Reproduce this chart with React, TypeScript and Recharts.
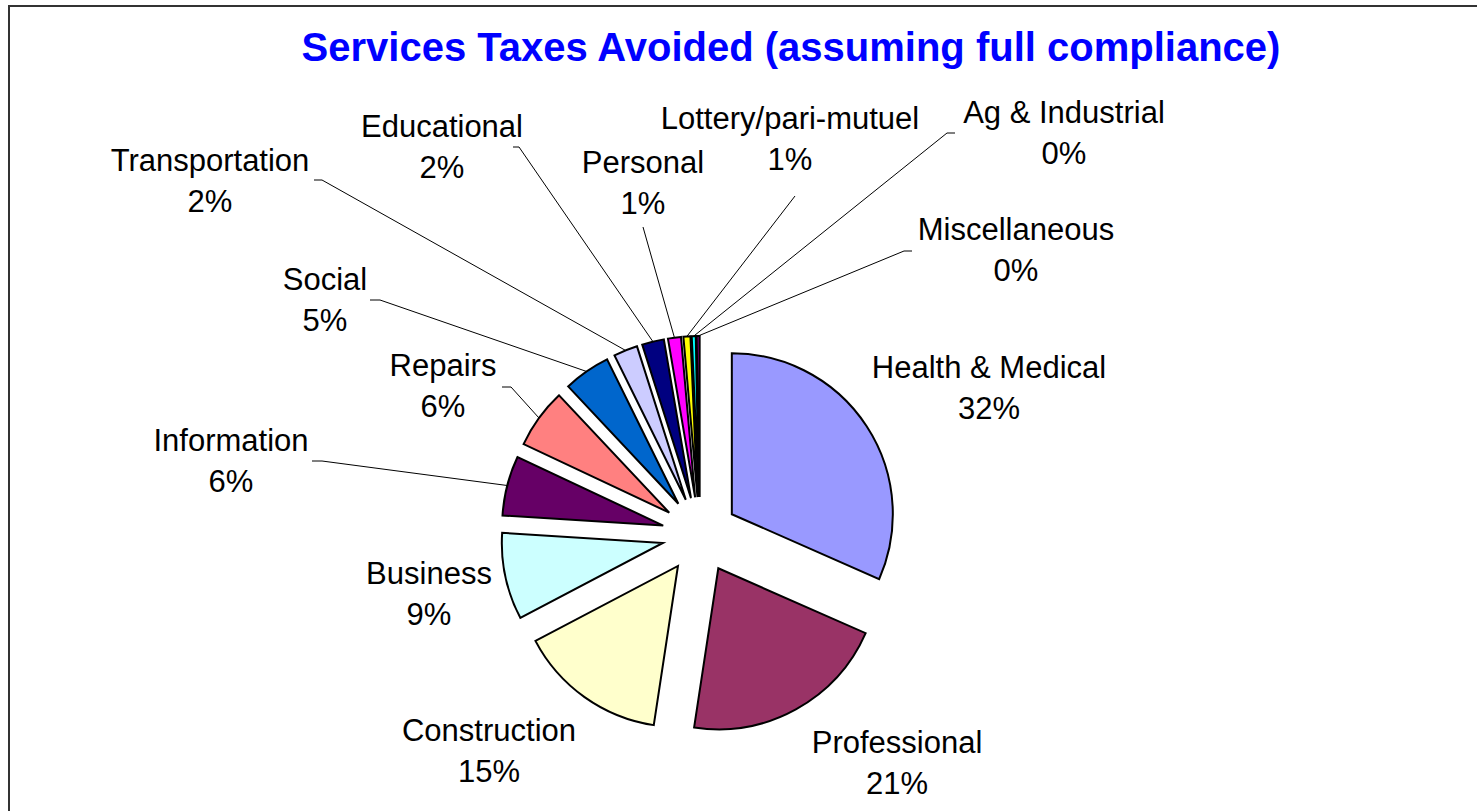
import React from 'react';
import { PieChart, Pie, Cell, Sector } from 'recharts';

// ---- data ----
const CATEGORIES = [
  'Health & Medical',
  'Professional',
  'Construction',
  'Business',
  'Information',
  'Repairs',
  'Social',
  'Transportation',
  'Educational',
  'Personal',
  'Lottery/pari-mutuel',
  'Ag & Industrial',
  'Miscellaneous',
];
const SHARES = [31.6, 20.8, 14.9, 8.7, 6.0, 6.0, 4.7, 2.4, 2.2, 1.3, 0.7, 0.4, 0.3];
const TITLE = 'Services Taxes Avoided (assuming full compliance)';

// ---- style / layout ----
const COLORS = [
  '#9999FF', '#993366', '#FFFFCC', '#CCFFFF', '#660066', '#FF8080', '#0066CC',
  '#CCCCFF', '#000080', '#FF00FF', '#FFFF00', '#00FFFF', '#800080',
];
const W = 1477;
const H = 811;
const CX = 700;
const CY = 535;
const R = 161;
const EXPLODE = 38;
const FONT = "'Liberation Sans', Arial, Helvetica, sans-serif";
const LABEL_SIZE = 31;
const LINE_GAP = 41;

// label first-line baseline centre, relative to pie centre
const LABEL_POS: [number, number][] = [
  [289, -157], [197, 218], [-211, 206], [-271, 49], [-469, -84], [-257, -159],
  [-375, -245], [-490, -364], [-258, -398], [-57, -362], [90, -406], [364, -412], [316, -295],
];
// leader line start (relative to pie centre) and horizontal stub length
const LEADERS: ([number, number, number] | null)[] = [
  null, null, null, null,
  [-388, -74, 10],
  [-198, -148, 9],
  [-330, -235, 10],
  [-386, -355, 8],
  [-187, -388, 6],
  [-57, -308, 0],
  [95, -339, 0],
  [255, -402, -8],
  [212, -284, -8],
];

const data = CATEGORIES.map((name, i) => ({ name, value: SHARES[i] }));

const RAD = Math.PI / 180;

const ExplodedSector = (props: any) => {
  const a = -props.midAngle * RAD;
  return (
    <Sector
      {...props}
      cx={props.cx + EXPLODE * Math.cos(a)}
      cy={props.cy + EXPLODE * Math.sin(a)}
    />
  );
};

const renderLabel = (props: any) => {
  const { cx, cy, midAngle, outerRadius, percent, index, name } = props;
  const [dx, dy] = LABEL_POS[index];
  const x = cx + dx;
  const y = cy + dy;
  const leader = LEADERS[index];
  let path: React.ReactNode = null;
  if (leader) {
    const a = -midAngle * RAD;
    const ex = cx + (EXPLODE + outerRadius) * Math.cos(a);
    const ey = cy + (EXPLODE + outerRadius) * Math.sin(a);
    const sx = cx + leader[0];
    const sy = cy + leader[1];
    path = (
      <path
        d={`M${sx},${sy} L${sx + leader[2]},${sy} L${ex},${ey}`}
        fill="none"
        stroke="#000"
        strokeWidth={1}
      />
    );
  }
  return (
    <g key={`lbl-${index}`}>
      {path}
      <text
        x={x}
        y={y}
        textAnchor="middle"
        fontFamily={FONT}
        fontSize={LABEL_SIZE}
        fill="#000"
      >
        <tspan x={x}>{name}</tspan>
        <tspan x={x} dy={LINE_GAP}>{`${Math.round(percent * 100)}%`}</tspan>
      </text>
    </g>
  );
};

export default function App() {
  return (
    <div
      style={{
        position: 'absolute',
        left: 0,
        top: 0,
        width: W,
        height: H,
        overflow: 'hidden',
        background: '#fff',
      }}
    >
      <svg
        width={W}
        height={H}
        style={{ position: 'absolute', left: 0, top: 0 }}
      >
        <path d={`M9,${H + 20} L9,6 L${W + 20},6`} fill="none" stroke="#333" strokeWidth={2} />
        <text
          x={791}
          y={61}
          textAnchor="middle"
          fontFamily={FONT}
          fontWeight="bold"
          fontSize={40}
          fill="#0000FF"
        >
          {TITLE}
        </text>
      </svg>
      <div style={{ position: 'absolute', left: 0, top: 0 }}>
        <PieChart width={W} height={H} margin={{ top: 0, right: 0, bottom: 0, left: 0 }}>
          <Pie
            data={data}
            dataKey="value"
            nameKey="name"
            cx={CX}
            cy={CY}
            outerRadius={R}
            startAngle={90}
            endAngle={-270}
            stroke="#000"
            strokeWidth={2}
            isAnimationActive={false}
            shape={ExplodedSector}
            label={renderLabel}
            labelLine={false}
          >
            {data.map((d, i) => (
              <Cell key={d.name} fill={COLORS[i]} />
            ))}
          </Pie>
        </PieChart>
      </div>
    </div>
  );
}
